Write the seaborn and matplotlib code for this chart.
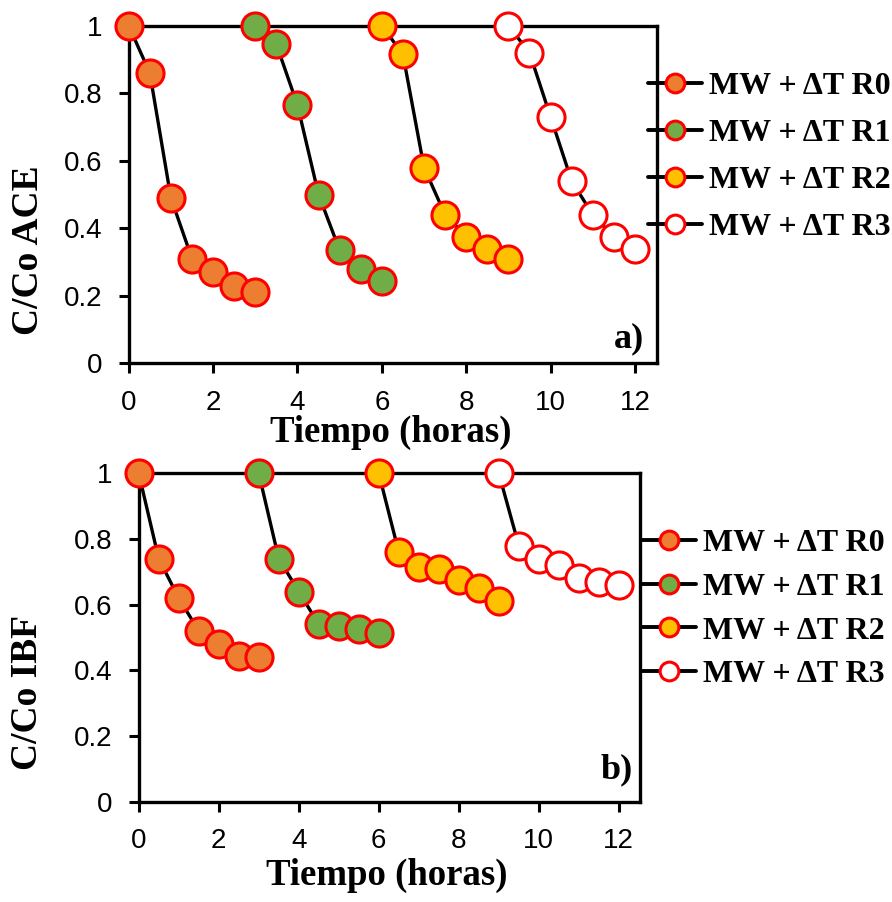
import matplotlib
matplotlib.use("Agg")
import matplotlib.pyplot as plt
import pandas as pd
import seaborn as sns

# Sampling times (hours) for each reuse cycle
tiempo_r0 = [0, 0.5, 1, 1.5, 2, 2.5, 3]
tiempo_r1 = [3, 3.5, 4, 4.5, 5, 5.5, 6]
tiempo_r2 = [6, 6.5, 7, 7.5, 8, 8.5, 9]
tiempo_r3 = [9, 9.5, 10, 10.5, 11, 11.5, 12]

# C/Co of acetaminophen (ACE)
ace_r0 = [1.0, 0.86, 0.49, 0.31, 0.27, 0.23, 0.21]
ace_r1 = [1.0, 0.945, 0.765, 0.50, 0.335, 0.28, 0.245]
ace_r2 = [1.0, 0.915, 0.58, 0.44, 0.375, 0.34, 0.31]
ace_r3 = [1.0, 0.92, 0.73, 0.54, 0.44, 0.375, 0.34]

# C/Co of ibuprofen (IBF)
ibf_r0 = [1.0, 0.74, 0.62, 0.52, 0.48, 0.445, 0.44]
ibf_r1 = [1.0, 0.74, 0.64, 0.54, 0.535, 0.525, 0.515]
ibf_r2 = [1.0, 0.76, 0.715, 0.71, 0.675, 0.65, 0.61]
ibf_r3 = [1.0, 0.78, 0.74, 0.72, 0.68, 0.67, 0.66]

series_labels = ["MW + ΔT R0", "MW + ΔT R1", "MW + ΔT R2", "MW + ΔT R3"]
fill_colors = ["#ED7D31", "#70AD47", "#FFC000", "#FFFFFF"]
y_ticks = [0, 0.2, 0.4, 0.6, 0.8, 1.0]
y_tick_labels = ["0", "0.2", "0.4", "0.6", "0.8", "1"]
x_ticks = [0, 2, 4, 6, 8, 10, 12]

tiempos = [tiempo_r0, tiempo_r1, tiempo_r2, tiempo_r3]


def long_table(series):
    rows = []
    for lab, t, v in zip(series_labels, tiempos, series):
        for ti, vi in zip(t, v):
            rows.append({"ciclo": lab, "tiempo": ti, "valor": vi})
    return pd.DataFrame(rows)


df_ace = long_table([ace_r0, ace_r1, ace_r2, ace_r3])
df_ibf = long_table([ibf_r0, ibf_r1, ibf_r2, ibf_r3])

sns.set_theme(style="ticks")
plt.rcParams["font.family"] = ["Liberation Sans", "DejaVu Sans"]
plt.rcParams["axes.linewidth"] = 2.4
for key in ["text.color", "axes.labelcolor", "xtick.color", "ytick.color", "axes.edgecolor"]:
    plt.rcParams[key] = "black"

SERIF = ["Liberation Serif", "DejaVu Serif"]
SANS = ["Liberation Sans", "DejaVu Sans"]

FIG_W, FIG_H = 892, 902
fig = plt.figure(figsize=(FIG_W / 100, FIG_H / 100), dpi=100)
ax_a = fig.add_axes([0.1443, 0.5972, 0.5926, 0.3743])
ax_b = fig.add_axes([0.1555, 0.1112, 0.5620, 0.3641])


def draw_panel(ax, df, ylabel, tag, ylab_xy, xlab_baseline_px, tag_xy, leg_anchor, leg_spacing):
    for lab, fc in zip(series_labels, fill_colors):
        sub = df[df["ciclo"] == lab]
        sns.lineplot(
            data=sub, x="tiempo", y="valor", ax=ax, sort=False, errorbar=None,
            color="black", linewidth=2.4, marker="o", markersize=19.5,
            markerfacecolor=fc, markeredgecolor="#FF0000", markeredgewidth=2.2,
            label=lab, clip_on=False, zorder=3,
        )
    ax.set_xlim(0, 12.53)
    ax.set_ylim(0, 1)
    ax.set_xticks(x_ticks)
    ax.set_xticklabels([str(t) for t in x_ticks], family=SANS, color="black")
    ax.set_yticks(y_ticks)
    ax.set_yticklabels(y_tick_labels, family=SANS, color="black")
    ax.tick_params(axis="both", direction="out", length=7, width=2.2, pad=12,
                   colors="black", labelsize=20)
    for sp in ax.spines.values():
        sp.set_visible(True)
        sp.set_linewidth(2.4)
        sp.set_color("black")

    ax.set_xlabel("")
    ax.set_ylabel(ylabel, family=SERIF, fontweight="bold", fontsize=27,
                  va="center", color="black")
    ax.yaxis.set_label_coords(*ylab_xy)

    # x-axis title placed by its baseline, centred under the axes
    pos = ax.get_position()
    fig.text((pos.x0 + pos.x1) / 2 - 0.003, 1 - xlab_baseline_px / FIG_H, "Tiempo (horas)",
             ha="center", va="baseline", family=SERIF, fontweight="bold",
             fontsize=26.5, color="black")

    ax.text(tag_xy[0], tag_xy[1], tag, transform=ax.transAxes, ha="right", va="baseline",
            family=SERIF, fontweight="bold", fontsize=26, color="black")

    leg = ax.legend(
        loc="center left", bbox_to_anchor=leg_anchor, bbox_transform=fig.transFigure,
        frameon=False, borderpad=0, borderaxespad=0, handlelength=1.7,
        handletextpad=0.2, labelspacing=leg_spacing, numpoints=1,
        prop={"family": SERIF, "weight": "bold", "size": 23},
    )
    for h in leg.legend_handles:
        h.set_markersize(13.5)
        h.set_linewidth(2.8)
        h.set_markeredgewidth(2.2)
    for t in leg.get_texts():
        t.set_color("black")


draw_panel(ax_a, df_ace, "C/Co ACE", "a)",
           ylab_xy=(-0.19, 0.336), xlab_baseline_px=442, tag_xy=(0.975, 0.048),
           leg_anchor=(648 / FIG_W, 1 - 157 / FIG_H), leg_spacing=0.55)
draw_panel(ax_b, df_ibf, "C/Co IBF", "b)",
           ylab_xy=(-0.221, 0.334), xlab_baseline_px=885, tag_xy=(0.986, 0.072),
           leg_anchor=(642 / FIG_W, 1 - 609 / FIG_H), leg_spacing=0.45)

fig.savefig("out.png", dpi=100, facecolor="white")
